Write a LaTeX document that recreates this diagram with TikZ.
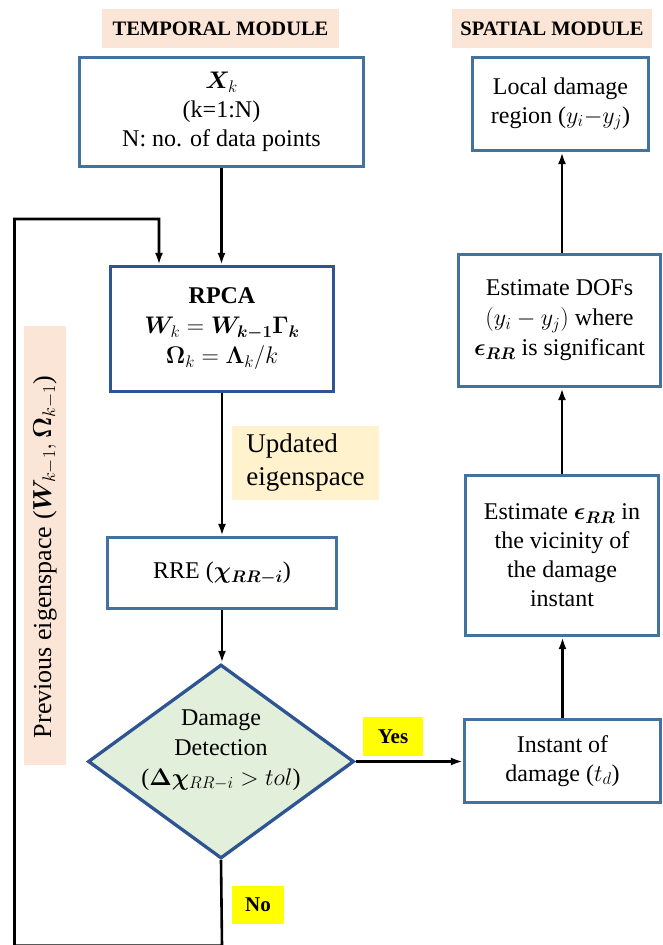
\RequirePackage{fix-cm}
\documentclass[tikz,border=0pt]{standalone}
\usepackage{amsmath}
\usepackage{bm}
\usepackage{fontspec}
\setmainfont{Liberation Serif}
\usetikzlibrary{arrows.meta,shapes.geometric}
\definecolor{peach}{RGB}{251,229,214}
\definecolor{lyellow}{RGB}{255,242,204}
\definecolor{dgreen}{RGB}{226,239,218}
\definecolor{bA}{RGB}{68,114,158}
\definecolor{bB}{RGB}{47,84,146}
\definecolor{hiyel}{RGB}{255,255,0}
\begin{document}
\begin{tikzpicture}[x=1pt,y=-1pt,
  box/.style={draw=bA, line width=3.3pt, fill=white, inner sep=0pt, align=center,
    font=\fontsize{24}{29}\selectfont},
  boxB/.style={box, draw=bB},
  head/.style={fill=peach, inner sep=0pt, font=\fontsize{20.5}{24}\selectfont\bfseries},
  tag/.style={fill=hiyel, inner sep=0pt, font=\fontsize{21}{24}\selectfont\bfseries},
  arr/.style={line width=2.6pt, -{Latex[length=12pt,width=8pt]}}]
\useasboundingbox (0,0) rectangle (662,945);

% headings
\node[head, minimum width=237pt, minimum height=39pt] (th) at (220.5,28.5) {TEMPORAL MODULE};
\node[head, minimum width=200pt, minimum height=39pt] (sh) at (552,28.5) {SPATIAL MODULE};

% temporal column
\node[box, minimum width=284pt, minimum height=109pt, font=\fontsize{24}{29}\selectfont] (xk) at (221.5,112)
  {$\bm{X}_k$\\(k=1:N)\\N: no. of data points};
\node[boxB, minimum width=223pt, minimum height=125pt, font=\fontsize{24}{30}\selectfont] (rpca) at (222,329)
  {\textbf{RPCA}\\$\bm{W}_k = \bm{W_{k-1}\Gamma_k}$\\$\bm{\Omega}_k = \bm{\Lambda}_k/k$};
\node[fill=lyellow, inner sep=0pt, minimum width=147pt, minimum height=74pt, align=left,
  font=\fontsize{27}{33}\selectfont] (upd) at (305.5,463) {Updated\\eigenspace};
\node[box, minimum width=229pt, minimum height=71pt] (rre) at (222,573)
  {RRE ($\bm{\chi_{RR-i}}$)};
\node[diamond, draw=bB, fill=dgreen, line width=3.3pt, inner sep=0pt,
  minimum width=266pt, minimum height=194pt] (dd) at (221,761.5) {};
\node[align=center, inner sep=0pt, font=\fontsize{24}{30}\selectfont] (ddt) at (221,750)
  {Damage\\Detection\\($\bm{\Delta\chi}_{RR-i} > tol$)};
\node[tag, minimum width=60pt, minimum height=39pt] (yes) at (393,736.5) {Yes};
\node[tag, minimum width=52pt, minimum height=38pt] (no) at (258,905) {No};

% previous eigenspace label
\node[fill=peach, inner sep=0pt, minimum width=42pt, minimum height=439pt] (prevbg) at (45,545.5) {};
\node[inner sep=0pt, rotate=90, font=\fontsize{26}{30}\selectfont] (prev) at (45,557)
  {Previous eigenspace ($\bm{W}_{k-1}, \bm{\Omega}_{k-1}$)};

% spatial column
\node[box, minimum width=176pt, minimum height=93pt] (loc) at (560.5,104)
  {Local damage\\region ($y_i{-}y_j$)};
\node[box, minimum width=202pt, minimum height=132pt, font=\fontsize{24}{30}\selectfont] (dofs) at (559.5,320.5)
  {Estimate DOFs\\$(y_i - y_j)$ where\\$\bm{\epsilon_{RR}}$ is significant};
\node[box, minimum width=193pt, minimum height=160pt] (eps) at (562,555.5)
  {Estimate $\bm{\epsilon_{RR}}$ in\\the vicinity of\\the damage\\instant};
\node[box, minimum width=196pt, minimum height=83pt] (inst) at (562.5,761)
  {Instant of\\damage ($t_d$)};

% feedback loop coordinates
\coordinate (fb1) at (222,945.6);
\coordinate (fb2) at (14.5,945.6);
\coordinate (fb3) at (14.5,219);
\coordinate (fb4) at (159,219);

% connectors
\draw[arr] (xk.south) -- (xk.south |- rpca.north);
\draw[arr] (rpca.south) -- (rpca.south |- rre.north);
\draw[arr] (rre.south) -- (rre.south |- dd.north);
\draw[arr] (dd.east) -- (dd.east -| inst.west);
\draw[arr] (dd.south) -- (fb1) -- (fb2) -- (fb3) -- (fb4) -- (fb4 |- rpca.north);
\draw[arr] (inst.north) -- (inst.north |- eps.south);
\draw[arr] (eps.north) -- (eps.north |- dofs.south);
\draw[arr] (eps.north |- dofs.north) -- (eps.north |- loc.south);
\end{tikzpicture}
\end{document}
